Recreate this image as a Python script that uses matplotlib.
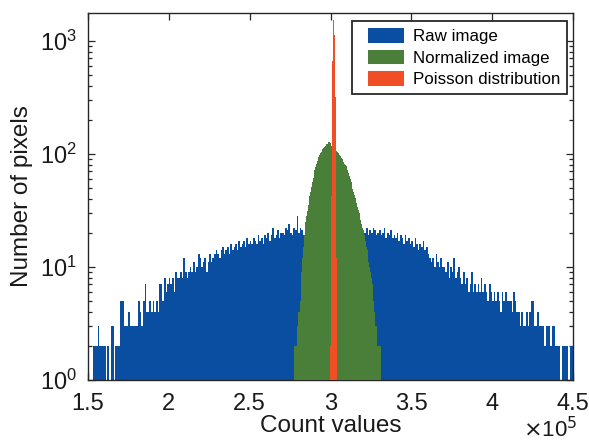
import numpy as np
import matplotlib
matplotlib.use("Agg")
import matplotlib.pyplot as plt
from matplotlib.patches import Patch, Rectangle
from matplotlib.ticker import LogLocator, NullFormatter, FixedLocator

plt.rcParams['font.family'] = ['Liberation Sans', 'DejaVu Sans']

# ---------------- data ----------------
# Raw image histogram: bins of 1000 counts from 150000 to 450000
raw_start = 150000
raw_width = 1000
raw_counts = [
    0, 0, 0, 2, 2, 2, 3, 2, 2, 2,        # 1.50
    2, 1, 2, 1, 3, 3, 1, 2, 2, 2,        # 1.60
    5, 5, 3, 3, 3, 4, 3, 3, 3, 3,        # 1.70
    3, 5, 4, 3, 5, 7, 4, 4, 5, 4,        # 1.80
    5, 4, 5, 4, 7, 7, 5, 8, 6, 7,        # 1.90
    8, 7, 8, 6, 9, 8, 8, 9, 8, 12,       # 2.00
    9, 8, 9, 10, 9, 11, 9, 10, 13, 12,   # 2.10
    10, 11, 12, 9, 11, 13, 11, 12, 13, 14,   # 2.20
    13, 12, 14, 15, 13, 14, 15, 13, 16, 14,  # 2.30
    15, 16, 14, 17, 15, 16, 17, 15, 18, 16,  # 2.40
    17, 16, 18, 17, 16, 19, 17, 18, 16, 19,  # 2.50
    18, 20, 17, 19, 22, 18, 19, 21, 18, 20,  # 2.60
    20, 19, 22, 21, 24, 20, 19, 22, 21, 28,  # 2.70
    20, 22, 21, 19, 22, 20, 21, 23, 20, 21,  # 2.80
    21, 22, 20, 21, 23, 22, 20, 21, 22, 21,  # 2.90
    22, 21, 23, 20, 22, 21, 20, 22, 21, 23,  # 3.00
    21, 22, 20, 21, 22, 20, 21, 19, 22, 20,  # 3.10
    21, 20, 22, 19, 21, 20, 22, 21, 19, 20,  # 3.20
    21, 19, 20, 22, 18, 20, 19, 21, 18, 19,  # 3.30
    18, 20, 17, 19, 18, 16, 19, 17, 18, 16,  # 3.40
    17, 15, 18, 16, 14, 16, 15, 17, 14, 15,  # 3.50
    13, 12, 11, 12, 10, 13, 11, 10, 12, 10,  # 3.60
    10, 9, 11, 8, 10, 9, 12, 8, 9, 10,       # 3.70
    8, 7, 9, 7, 8, 6, 7, 9, 6, 7,            # 3.80
    6, 7, 6, 8, 6, 7, 6, 5, 7, 6,            # 3.90
    5, 6, 5, 6, 5, 4, 6, 5, 6, 5,            # 4.00
    5, 5, 4, 6, 5, 4, 4, 3, 4, 3,            # 4.10
    3, 4, 3, 4, 5, 5, 3, 3, 4, 3,            # 4.20
    3, 3, 2, 3, 3, 3, 2, 3, 3, 2,            # 4.30
    2, 2, 1, 2, 2, 2, 2, 1, 2, 2,            # 4.40
]

# Normalized image histogram: bins of 500 counts from 277000
norm_start = 277000
norm_width = 500
norm_counts = [
    0, 2, 2, 2, 3, 3, 4, 4, 5, 7,
    9, 12, 15, 19, 22, 25, 28, 31, 35, 38,
    42, 46, 51, 56, 61, 66, 72, 77, 82, 86,
    90, 94, 98, 101, 104, 107, 110, 112, 115, 117,
    119, 121, 123, 126, 128, 124, 120, 118, 115, 112,
    110, 108, 106, 105, 104, 102, 99, 97, 95, 92,
    90, 87, 85, 82, 80, 78, 76, 72, 68, 64,
    60, 56, 53, 49, 46, 43, 41, 39, 37, 34,
    32, 30, 28, 26, 24, 22, 21, 20, 19, 17,
    15, 14, 12, 11, 10, 9, 8, 7, 6, 5,
    4, 3, 3, 3, 2, 2, 2, 2, 0,
]

# Poisson distribution histogram: bins of 250 counts from 299950
pois_start = 299950
pois_width = 250
pois_counts = [2, 10, 42, 125, 330, 668, 1130, 1525, 1680,
               1540, 1118, 676, 320, 131, 39, 12, 2]

series_labels = ['Raw image', 'Normalized image', 'Poisson distribution']
series_colors = ['#0a4ea2', '#4a7f3a', '#f04e24']

xtick_vals = [1.5, 2, 2.5, 3, 3.5, 4, 4.5]
xtick_labels = ['1.5', '2', '2.5', '3', '3.5', '4', '4.5']

# ---------------- plot ----------------
W, H = 589, 445
fig = plt.figure(figsize=(W / 100, H / 100), dpi=100)
ax_l, ax_r, ax_t, ax_b = 88, 573, 13, 380
ax = fig.add_axes([ax_l / W, 1 - ax_b / H, (ax_r - ax_l) / W, (ax_b - ax_t) / H])
ax.set_yscale('log')

floor = 0.5

def draw(start, width, counts, color, z):
    counts = np.asarray(counts, dtype=float)
    edges = start + width * np.arange(len(counts) + 1)
    vals = np.clip(counts, floor, None)
    ax.stairs(vals, edges, fill=True, baseline=floor, color=color,
              linewidth=0, zorder=z)

draw(raw_start, raw_width, raw_counts, series_colors[0], 2)
draw(norm_start, norm_width, norm_counts, series_colors[1], 3)
draw(pois_start, pois_width, pois_counts, series_colors[2], 4)

ax.set_xlim(150000, 450000)
ax.set_ylim(1, 1760)

ax.xaxis.set_major_locator(FixedLocator([v * 1e5 for v in xtick_vals]))
ax.set_xticklabels(xtick_labels)
ax.yaxis.set_major_locator(LogLocator(base=10, numticks=10))
ax.yaxis.set_minor_locator(LogLocator(base=10, subs=np.arange(2, 10), numticks=10))
ax.yaxis.set_minor_formatter(NullFormatter())

ax.tick_params(axis='both', which='both', direction='in', top=True, right=True,
               labelsize=17, width=0.9, color='#262626', labelcolor='#1a1a1a')
ax.tick_params(axis='both', which='major', length=5)
ax.tick_params(axis='x', which='major', pad=9)
ax.tick_params(axis='y', which='major', pad=8)
ax.tick_params(axis='y', which='minor', length=3)
ax.tick_params(axis='x', which='minor', length=0)
for s in ax.spines.values():
    s.set_linewidth(1.0)
    s.set_color('#262626')

ax.set_xlabel('Count values', fontsize=17.5, labelpad=0, color='#1a1a1a')
ax.set_ylabel('Number of pixels', fontsize=17.5, labelpad=5, color='#1a1a1a')
fig.text(577 / W, 1 - 445 / H + 0.006, r'$\times$10$^5$', ha='right', va='bottom',
         fontsize=16, color='#1a1a1a')

# legend with a frame matching the reference box
box_l, box_r, box_t, box_b = 352, 567, 21, 94
def ax_x(px):
    return (px - ax_l) / (ax_r - ax_l)
def ax_y(py):
    return (ax_b - py) / (ax_b - ax_t)
ax.add_patch(Rectangle((ax_x(box_l), ax_y(box_b)), ax_x(box_r) - ax_x(box_l),
                       ax_y(box_t) - ax_y(box_b), transform=ax.transAxes,
                       facecolor='white', edgecolor='#262626', linewidth=1.3,
                       zorder=9, clip_on=False))
handles = [Patch(facecolor=c, edgecolor='none') for c in series_colors]
leg = ax.legend(handles, series_labels, loc='upper left',
                bbox_to_anchor=(ax_x(368), ax_y(28)), fontsize=12.2,
                frameon=False, handlelength=2.15, handleheight=0.95,
                labelspacing=0.32, borderpad=0, handletextpad=0.5,
                borderaxespad=0)
leg.set_zorder(10)

fig.savefig('out.png', dpi=100)
